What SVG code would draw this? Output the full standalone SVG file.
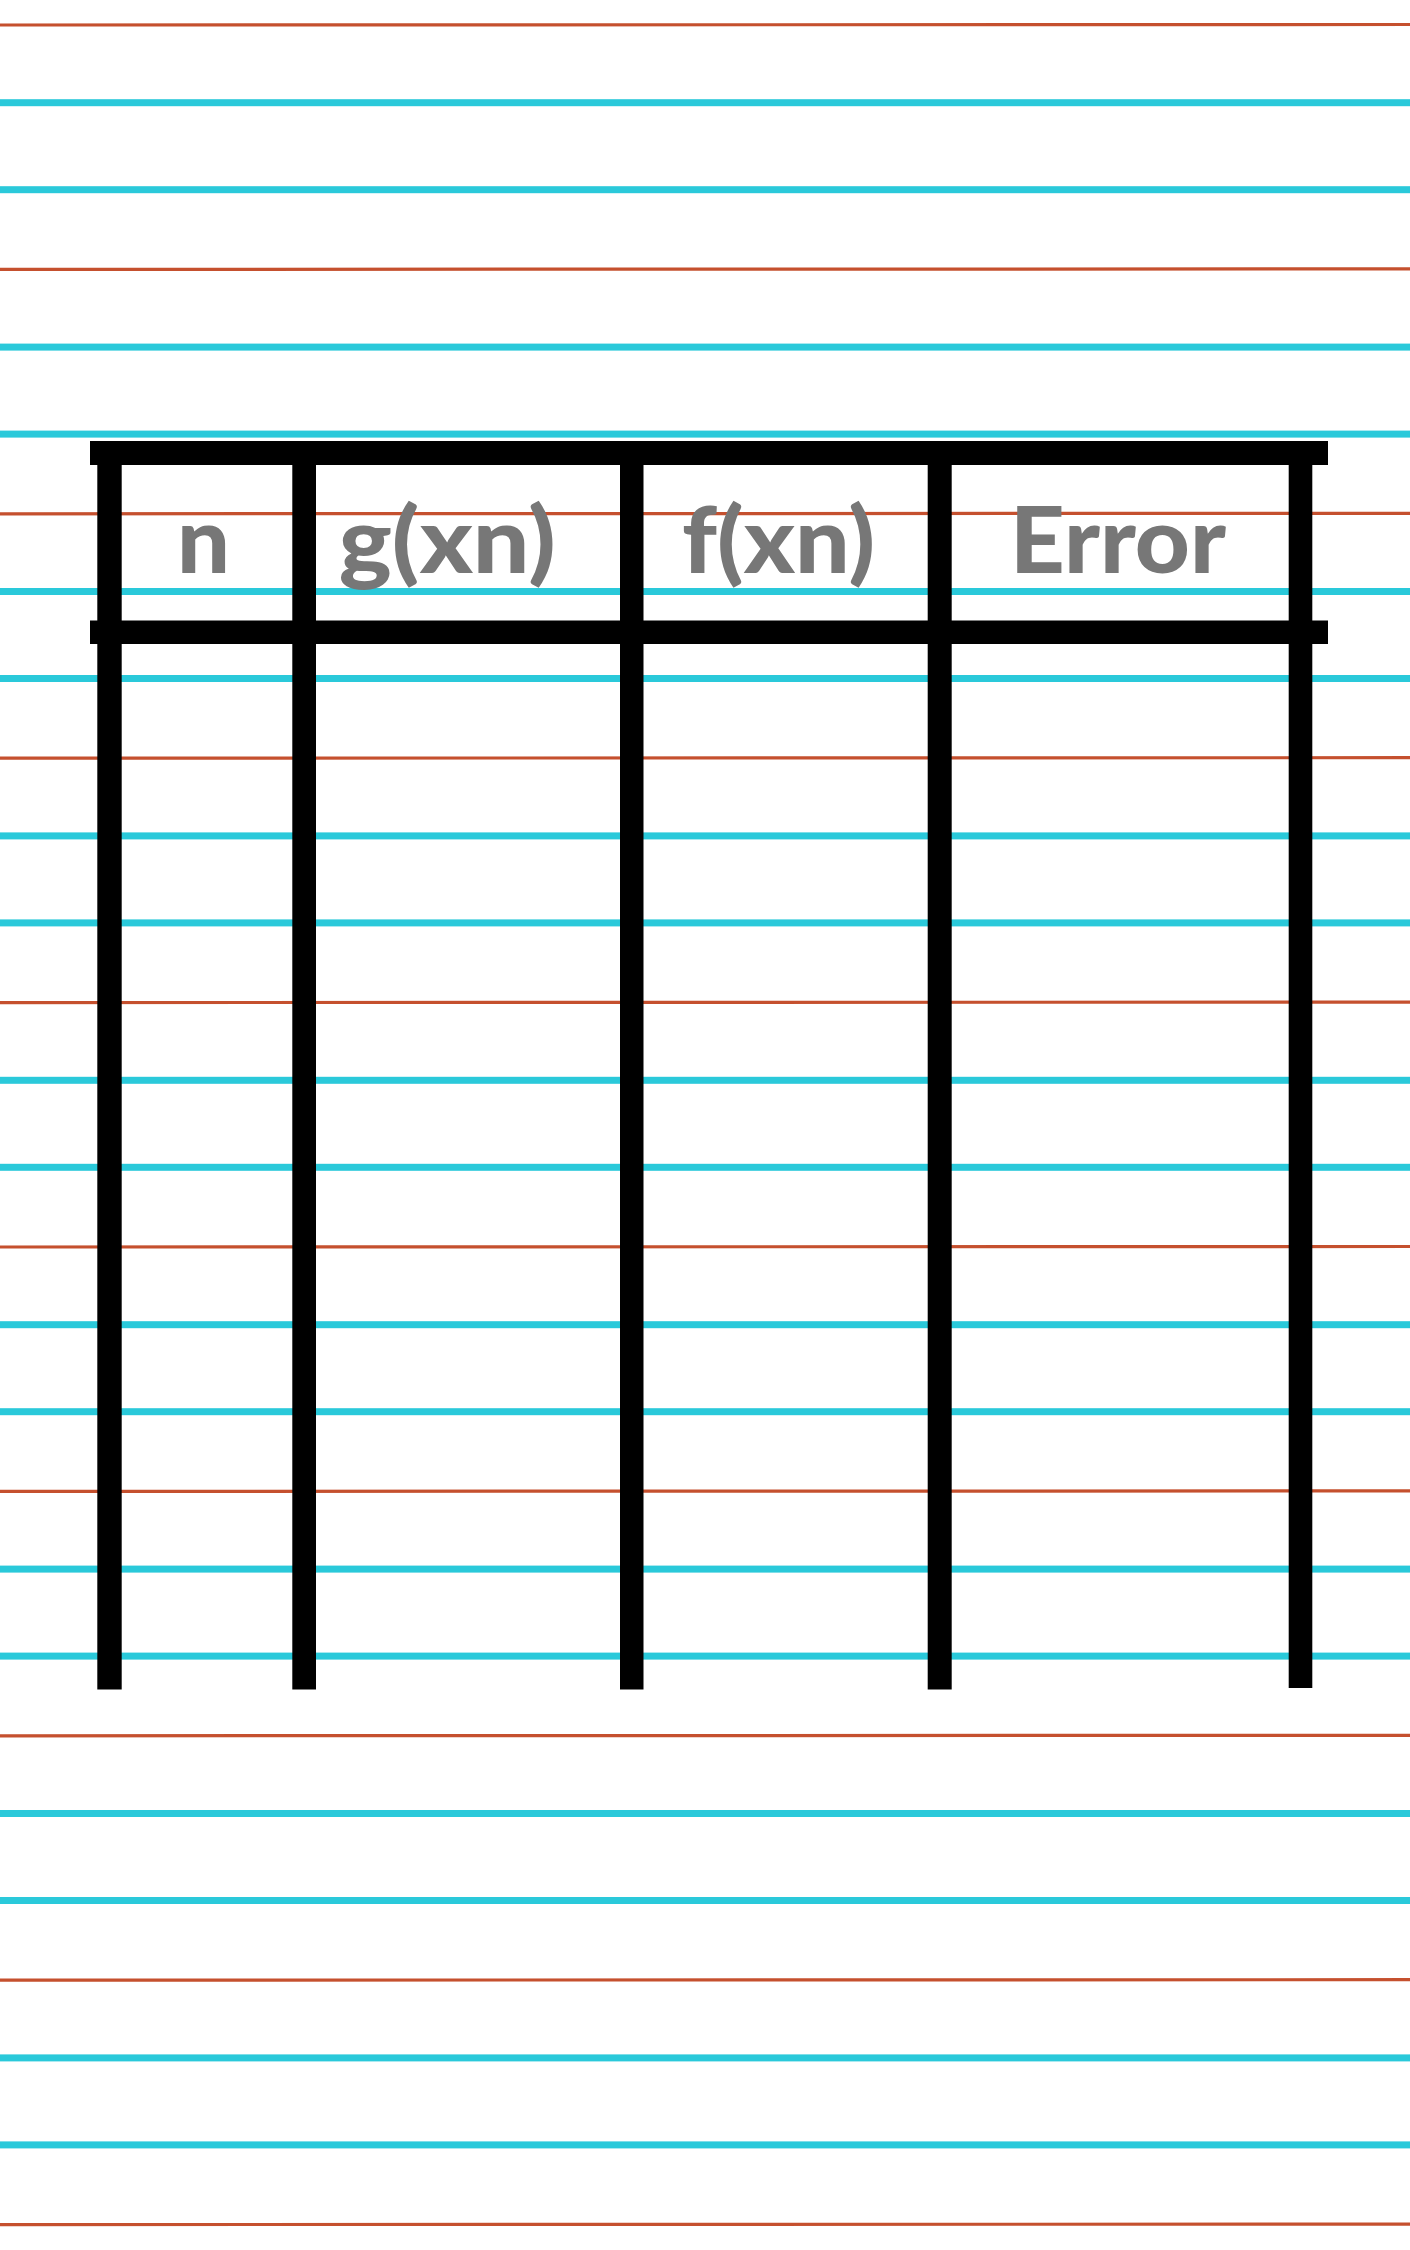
<svg xmlns="http://www.w3.org/2000/svg" width="1410" height="2250" viewBox="0 0 1410 2250">
<style>
.cy{fill:#2ac9da}
.rd{stroke:#c5502e;stroke-width:3.2;fill:none}
.bar{fill:#000}
.hd{font-family:"Lato","Liberation Sans",sans-serif;font-weight:900;font-size:92px;fill:#777777}
</style>
<rect width="1410" height="2250" fill="#fff"/>
<g id="paper-lines">
<g id="red-lines">
<path class="rd" d="M0 25 C300 23.5 700 23.5 1410 24.5"/>
<path class="rd" d="M0 269.4 C300 268 700 268 1410 268.9"/>
<path class="rd" d="M0 513.8 C300 512.3 700 512.3 1410 513.3"/>
<path class="rd" d="M0 758.2 C300 756.7 700 756.7 1410 757.7"/>
<path class="rd" d="M0 1002.6 C300 1001.1 700 1001.1 1410 1002.1"/>
<path class="rd" d="M0 1247 C300 1245.5 700 1245.5 1410 1246.5"/>
<path class="rd" d="M0 1491.4 C300 1489.9 700 1489.9 1410 1490.9"/>
<path class="rd" d="M0 1735.8 C300 1734.3 700 1734.3 1410 1735.3"/>
<path class="rd" d="M0 1980.2 C300 1978.7 700 1978.7 1410 1979.7"/>
<path class="rd" d="M0 2224.6 C300 2223.1 700 2223.1 1410 2224.1"/>
</g>
<g id="cyan-lines">
<rect class="cy" x="0" y="99.2" width="1410" height="7"/>
<rect class="cy" x="0" y="186.2" width="1410" height="7"/>
<rect class="cy" x="0" y="343.6" width="1410" height="7"/>
<rect class="cy" x="0" y="430.6" width="1410" height="7"/>
<rect class="cy" x="0" y="588" width="1410" height="7"/>
<rect class="cy" x="0" y="675" width="1410" height="7"/>
<rect class="cy" x="0" y="832.4" width="1410" height="7"/>
<rect class="cy" x="0" y="919.4" width="1410" height="7"/>
<rect class="cy" x="0" y="1076.8" width="1410" height="7"/>
<rect class="cy" x="0" y="1163.8" width="1410" height="7"/>
<rect class="cy" x="0" y="1321.2" width="1410" height="7"/>
<rect class="cy" x="0" y="1408.2" width="1410" height="7"/>
<rect class="cy" x="0" y="1565.6" width="1410" height="7"/>
<rect class="cy" x="0" y="1652.6" width="1410" height="7"/>
<rect class="cy" x="0" y="1810" width="1410" height="7"/>
<rect class="cy" x="0" y="1897" width="1410" height="7"/>
<rect class="cy" x="0" y="2054.4" width="1410" height="7"/>
<rect class="cy" x="0" y="2141.4" width="1410" height="7"/>
</g>
</g>
<g id="table">
<rect class="bar" x="90" y="441" width="1238" height="24"/>
<rect class="bar" x="90" y="620.5" width="1238" height="23.5"/>
<rect class="bar" x="97.3" y="441" width="24.4" height="1248.5"/>
<rect class="bar" x="292.3" y="441" width="23.7" height="1248.5"/>
<rect class="bar" x="620" y="441" width="23.5" height="1248.5"/>
<rect class="bar" x="927.7" y="441" width="24" height="1248.5"/>
<rect class="bar" x="1288.7" y="441" width="23.6" height="1247"/>
</g>
<g id="header-n"><text class="hd" x="177" y="573" textLength="53" lengthAdjust="spacingAndGlyphs">n</text></g>
<g id="header-gxn"><text class="hd" x="338.7" y="573" textLength="217" lengthAdjust="spacingAndGlyphs">g(xn)</text></g>
<g id="header-fxn"><text class="hd" x="682" y="573" textLength="193" lengthAdjust="spacingAndGlyphs">f(xn)</text></g>
<g id="header-error"><text class="hd" x="1010" y="573" textLength="216" lengthAdjust="spacingAndGlyphs">Error</text></g>
</svg>
